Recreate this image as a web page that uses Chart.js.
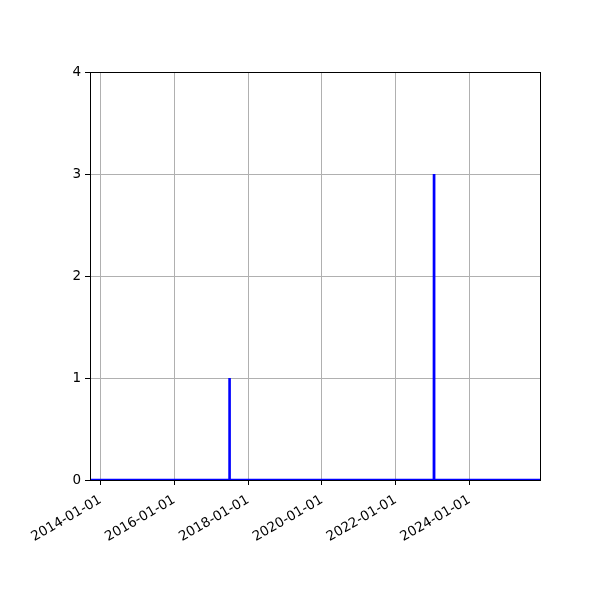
<!DOCTYPE html>
<html>
<head>
<meta charset="utf-8">
<script src="https://cdn.jsdelivr.net/npm/chart.js@4"></script>
<style>
  html, body { margin: 0; padding: 0; background: #fff; }
  #wrap { width: 600px; height: 600px; }
</style>
</head>
<body>
<div id="wrap"><canvas id="countChart" width="600" height="600"></canvas></div>
<script>
// readings
const dates = ['2013-09-19', '2017-06-30', '2017-07-01', '2017-07-02', '2023-01-14', '2023-01-15', '2023-01-16', '2025-11-29'];
const counts = [0, 0, 1, 0, 0, 3, 0, 0];
const xTickDates = ['2014-01-01', '2016-01-01', '2018-01-01', '2020-01-01', '2022-01-01', '2024-01-01'];
const yTicks = [0, 1, 2, 3, 4];

const toMs = d => Date.parse(d + 'T00:00:00Z');
const fmt = ms => new Date(ms).toISOString().slice(0, 10);

const points = dates.map((d, i) => ({ x: toMs(d), y: counts[i] }));

// black box around the plot area, like a matplotlib axes frame
const frame = {
    id: 'frame',
    afterDatasetsDraw(chart) {
        const a = chart.chartArea;
        const c = chart.ctx;
        c.save();
        c.strokeStyle = '#000';
        c.lineWidth = 1;
        c.strokeRect(Math.round(a.left) + 0.5, Math.round(a.top) + 0.5,
            Math.round(a.right - a.left), Math.round(a.bottom - a.top));
        c.restore();
    }
};

Chart.defaults.font.family = 'DejaVu Sans';
Chart.defaults.font.size = 13.5;
Chart.defaults.color = '#000';

const ctx = document.getElementById('countChart').getContext('2d');
const countChart = new Chart(ctx, {
    type: 'line',
    data: {
        datasets: [{
            data: points,
            borderColor: '#0000ff',
            borderWidth: 2.6,
            pointRadius: 0,
            tension: 0,
            fill: false
        }]
    },
    options: {
        responsive: false,
        animation: false,
        layout: { padding: { left: 0, right: 60, top: 72, bottom: 0 } },
        plugins: { legend: { display: false }, tooltip: { enabled: false } },
        scales: {
            x: {
                type: 'linear',
                min: toMs(dates[0]),
                max: toMs(dates[dates.length - 1]),
                afterBuildTicks: s => { s.ticks = xTickDates.map(d => ({ value: toMs(d) })); },
                afterFit: s => { s.height = 120; },
                border: { display: false },
                grid: { color: '#b0b0b0', lineWidth: 1, tickColor: '#000', tickLength: 5 },
                ticks: {
                    minRotation: 30,
                    maxRotation: 30,
                    autoSkip: false,
                    padding: 7,
                    callback: v => fmt(v)
                }
            },
            y: {
                min: 0,
                max: 4,
                afterBuildTicks: s => { s.ticks = yTicks.map(v => ({ value: v })); },
                afterFit: s => { s.width = 90; },
                border: { display: false },
                grid: { color: '#b0b0b0', lineWidth: 1, tickColor: '#000', tickLength: 5 },
                ticks: { padding: 4, callback: v => String(v) }
            }
        }
    },
    plugins: [frame]
});
</script>
</body>
</html>
